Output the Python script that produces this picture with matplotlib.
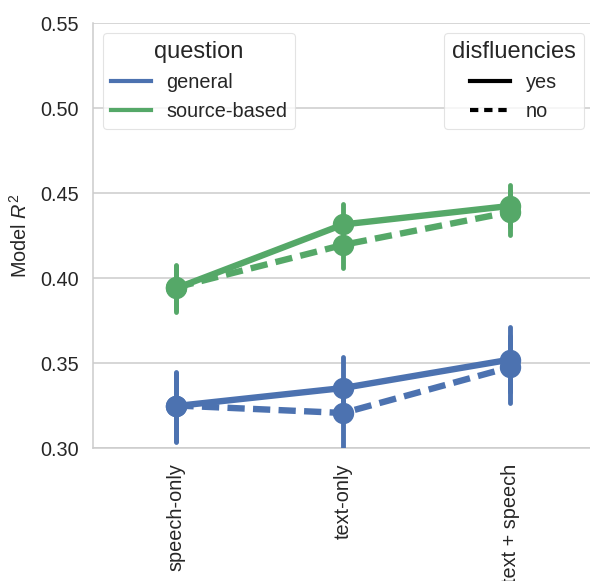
import matplotlib
matplotlib.use("Agg")
import matplotlib.pyplot as plt
from matplotlib.lines import Line2D
import numpy as np

plt.rcParams['font.family'] = ['Liberation Sans', 'DejaVu Sans']
plt.rcParams['mathtext.fontset'] = 'custom'
plt.rcParams['mathtext.it'] = 'Liberation Sans:italic'
plt.rcParams['mathtext.rm'] = 'Liberation Sans'

conditions = ["speech-only", "text-only", "text + speech"]
questions = ["general", "source-based"]
disfluencies = ["yes", "no"]

# mean R^2 values and CI bounds
general_yes = [0.3247, 0.3353, 0.3520]
general_yes_lo = [0.3040, 0.3170, 0.3330]
general_yes_hi = [0.3447, 0.3535, 0.3710]
general_no = [0.3250, 0.3206, 0.3475]
general_no_lo = [0.3035, 0.2980, 0.3265]
general_no_hi = [0.3440, 0.3400, 0.3660]

source_yes = [0.3940, 0.4315, 0.4424]
source_yes_lo = [0.3810, 0.4200, 0.4300]
source_yes_hi = [0.4076, 0.4435, 0.4547]
source_no = [0.3945, 0.4195, 0.4388]
source_no_lo = [0.3800, 0.4059, 0.4253]
source_no_hi = [0.4070, 0.4320, 0.4510]

yticks = [0.30, 0.35, 0.40, 0.45, 0.50, 0.55]

blue = "#4C72B0"
green = "#55A868"
textc = '#262626'

fig = plt.figure(figsize=(5.90, 5.81), dpi=100)
ax = fig.add_axes([93/590, (581-448)/581, 500.5/590, (448-23)/581])

x = np.arange(len(conditions))
series = [
    (general_yes, general_yes_lo, general_yes_hi, blue, '-'),
    (general_no, general_no_lo, general_no_hi, blue, (0, (2.7, 1.3))),
    (source_yes, source_yes_lo, source_yes_hi, green, '-'),
    (source_no, source_no_lo, source_no_hi, green, (0, (2.7, 1.3))),
]
for vals, lo, hi, col, ls in series:
    vals = np.array(vals); lo = np.array(lo); hi = np.array(hi)
    ax.vlines(x, lo, hi, color=col, lw=3.5, zorder=3, capstyle='round')
    ax.plot(x, vals, color=col, ls=ls, lw=4.6, marker='o', ms=14.4,
            zorder=4, dash_capstyle='butt')

ax.set_xlim(-0.5, 2.5)
ax.set_ylim(0.30, 0.55)
ax.set_yticks(yticks)
ax.set_yticklabels([f"{v:.2f}" for v in yticks])
ax.set_xticks(x)
ax.set_xticklabels(conditions, rotation=90)
ax.tick_params(axis='both', length=0, labelsize=14.3, colors=textc)
ax.tick_params(axis='y', pad=10)
ax.tick_params(axis='x', pad=11)
ax.grid(axis='y', color='#cccccc', lw=1.1)
ax.set_axisbelow(True)
for s in ['top', 'right']:
    ax.spines[s].set_visible(False)
for s in ['left', 'bottom']:
    ax.spines[s].set_color('#cccccc')
    ax.spines[s].set_linewidth(1.1)
ax.set_ylabel(r"Model $R^2$", fontsize=14.3, color=textc, labelpad=7)

h1 = [Line2D([], [], color=blue, lw=3), Line2D([], [], color=green, lw=3)]
leg1 = ax.legend(h1, questions, title="question", loc='upper left',
                 fontsize=14.3, title_fontsize=17,
                 frameon=True, edgecolor='#dddddd', handlelength=2.0)
ax.add_artist(leg1)
h2 = [Line2D([], [], color='black', lw=3, ls='-'),
      Line2D([], [], color='black', lw=3, ls=(0, (2.0, 1.4)))]
leg2 = ax.legend(h2, disfluencies, title="disfluencies", loc='upper right',
                 fontsize=14.3, title_fontsize=17,
                 frameon=True, edgecolor='#dddddd', handlelength=2.0)
for lg in (leg1, leg2):
    lg.get_frame().set_linewidth(0.8)
    for t in lg.get_texts():
        t.set_color(textc)
    lg.get_title().set_color(textc)

fig.savefig("out.png", dpi=100)
